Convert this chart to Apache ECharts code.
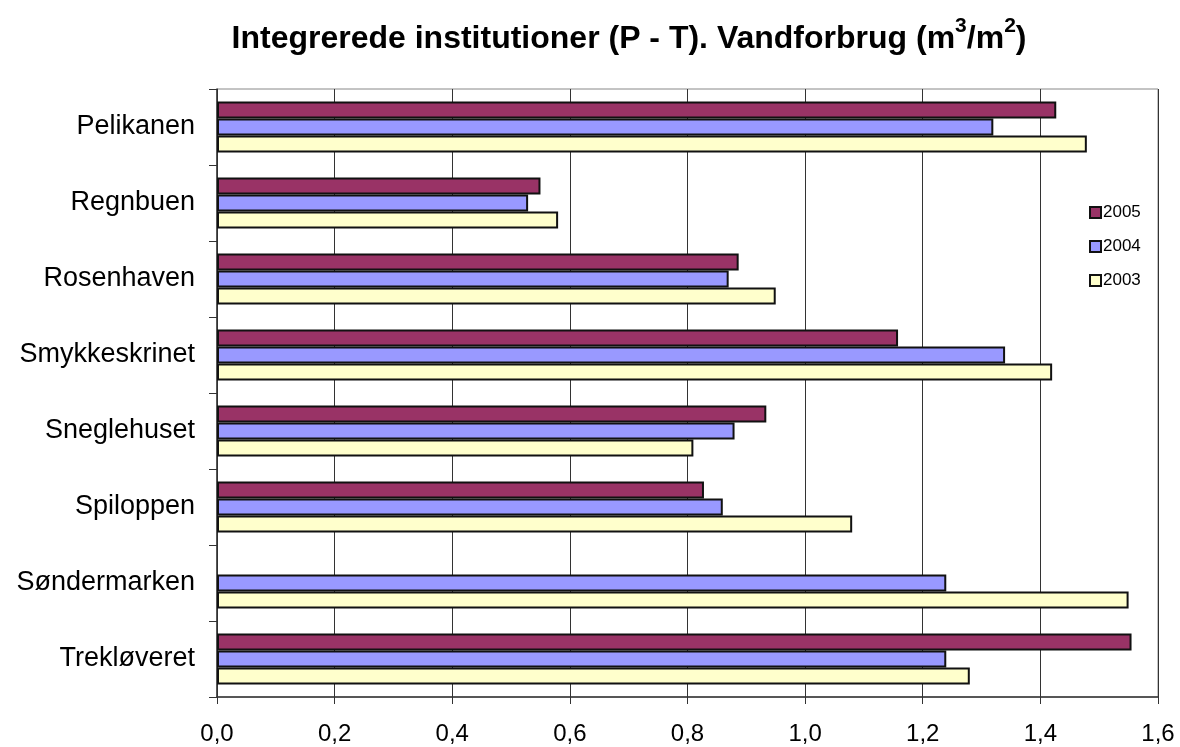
<!DOCTYPE html>
<html>
<head>
<meta charset="utf-8">
<script src="https://cdn.jsdelivr.net/npm/echarts@6/dist/echarts.min.js"></script>
<style>html,body{margin:0;padding:0;background:#fff}#c{width:1180px;height:747px}</style>
</head>
<body>
<div id="c"></div>
<script>
const categories = ['Pelikanen','Regnbuen','Rosenhaven','Smykkeskrinet','Sneglehuset','Spiloppen','Søndermarken','Trekløveret'];
const years = ['2005','2004','2003'];
const v2005 = [1.427, 0.550, 0.887, 1.158, 0.934, 0.828, null, 1.555];
const v2004 = [1.320, 0.529, 0.870, 1.340, 0.880, 0.860, 1.240, 1.240];
const v2003 = [1.479, 0.580, 0.950, 1.420, 0.810, 1.080, 1.550, 1.280];
const xTicks = {min: 0, max: 1.6, interval: 0.2};
const colors = ['#993366', '#9999FF', '#FFFFCC'];

const chart = echarts.init(document.getElementById('c'), null, {renderer: 'canvas'});
const seriesData = [v2005, v2004, v2003];
chart.setOption({
  animation: false,
  backgroundColor: '#fff',
  title: {
    text: '{t|Integrerede institutioner (P - T). Vandforbrug (m}{s|3}{t|/m}{s|2}{t|)}',
    left: 624, top: 11, textAlign: 'center',
    textStyle: {
      rich: {
        t: {fontFamily: 'Liberation Sans, Arial', fontWeight: 'bold', fontSize: 32, color: '#000', verticalAlign: 'top', padding: [7, 0, 0, 0]},
        s: {fontFamily: 'Liberation Sans, Arial', fontWeight: 'bold', fontSize: 21, color: '#000', verticalAlign: 'top', padding: [0, 0, 0, 0]}
      }
    }
  },
  legend: {
    orient: 'vertical', left: 1084, top: 199,
    itemWidth: 11, itemHeight: 11, itemGap: 17,
    icon: 'rect',
    textStyle: {fontFamily: 'Liberation Sans, Arial', fontSize: 17, color: '#000', padding: [0,0,0,-3]},
    data: years
  },
  grid: {left: 217, right: 22, top: 89, bottom: 50, show: true, borderColor: '#888', borderWidth: 1, containLabel: false},
  xAxis: {
    type: 'value', min: xTicks.min, max: xTicks.max, interval: xTicks.interval,
    axisLine: {show: true, lineStyle: {color: '#333', width: 1.5}},
    axisTick: {show: true, length: 7, lineStyle: {color: '#333'}},
    splitLine: {show: true, lineStyle: {color: '#333', width: 1}},
    axisLabel: {
      fontFamily: 'Liberation Sans, Arial', fontSize: 24, color: '#000', margin: 25,
      formatter: v => v.toFixed(1).replace('.', ',')
    }
  },
  yAxis: {
    type: 'category', data: categories, inverse: true,
    axisLine: {show: true, lineStyle: {color: '#333', width: 1.5}},
    axisTick: {show: true, length: 8, lineStyle: {color: '#333'}},
    axisLabel: {fontFamily: 'Liberation Sans, Arial', fontSize: 27, color: '#000', margin: 22}
  },
  series: years.map((y, i) => ({
    name: y, type: 'bar', data: seriesData[i],
    barGap: '0%', barCategoryGap: '33%',
    itemStyle: {color: colors[i], borderColor: '#111', borderWidth: 2},
    emphasis: {disabled: true}
  }))
});
</script>
</body>
</html>
